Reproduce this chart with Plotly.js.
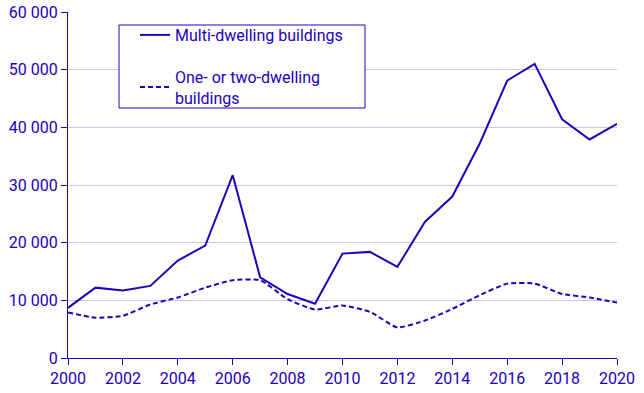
<!DOCTYPE html>
<html>
<head>
<meta charset="utf-8">
<script src="https://cdn.plot.ly/plotly-3.0.1.min.js"></script>
<style>html,body{margin:0;padding:0;background:#fff;}#chart{width:644px;height:393px;}</style>
</head>
<body>
<div id="chart"></div>
<script>
const years = [2000,2001,2002,2003,2004,2005,2006,2007,2008,2009,2010,2011,2012,2013,2014,2015,2016,2017,2018,2019,2020];
const multiDwelling = [8700,12200,11700,12500,16900,19500,31700,14000,11100,9400,18100,18400,15800,23600,28000,37200,48100,51000,41400,37900,40600];
const oneTwoDwelling = [7900,7000,7300,9300,10500,12200,13500,13500,10200,8400,9100,8000,5300,6500,8500,10900,12900,12900,11100,10500,9600];
const seriesNames = ["Multi-dwelling buildings","One- or two-dwelling<br>buildings"];
const xTicks = [2000,2002,2004,2006,2008,2010,2012,2014,2016,2018,2020];
const yTicks = [0,10000,20000,30000,40000,50000,60000];

const col = "#2200bb";
const traces = [
  {x: years, y: multiDwelling, name: seriesNames[0], type: "scatter", mode: "lines",
   line: {color: col, width: 2}, legendgroup: "a"},
  {x: years, y: oneTwoDwelling, name: seriesNames[1], type: "scatter", mode: "lines",
   line: {color: col, width: 2, dash: "5px,3px", shape: "spline", smoothing: 0.5}, legendgroup: "b"}
];
const layout = {
  width: 644, height: 393,
  margin: {l: 68, r: 27, t: 12, b: 35},
  paper_bgcolor: "#fff", plot_bgcolor: "#fff",
  separators: ". ",
  font: {family: "Roboto, sans-serif", size: 16, color: col},
  showlegend: true,
  legend: {x: (135-68)/549, y: (358-18)/346, xanchor: "left", yanchor: "top",
           borderwidth: 0, bgcolor: "rgba(0,0,0,0)",
           font: {size: 16, color: col}, tracegroupgap: 18, traceorder: "grouped"},
  shapes: [{type: "rect", xref: "paper", yref: "paper",
            x0: (119-68)/549, x1: (365-68)/549, y0: (358-108)/346, y1: (358-25)/346,
            line: {color: col, width: 1}, fillcolor: "#fff", layer: "above"}],
  xaxis: {range: [2000, 2020], tickvals: xTicks, showgrid: false, zeroline: false,
          showline: true, linecolor: col, linewidth: 1, ticks: "outside", ticklen: 6,
          tickcolor: col, tickfont: {size: 16, color: col}},
  yaxis: {range: [0, 60000], tickvals: yTicks, tickformat: ",d", showgrid: true,
          gridcolor: "#c9c5ef", gridwidth: 1, zeroline: false, showline: true,
          linecolor: col, linewidth: 1, ticks: "outside", ticklen: 6, tickcolor: col,
          tickfont: {size: 16, color: col}}
};
Plotly.newPlot("chart", traces, layout, {displayModeBar: false, staticPlot: true});
</script>
</body>
</html>
